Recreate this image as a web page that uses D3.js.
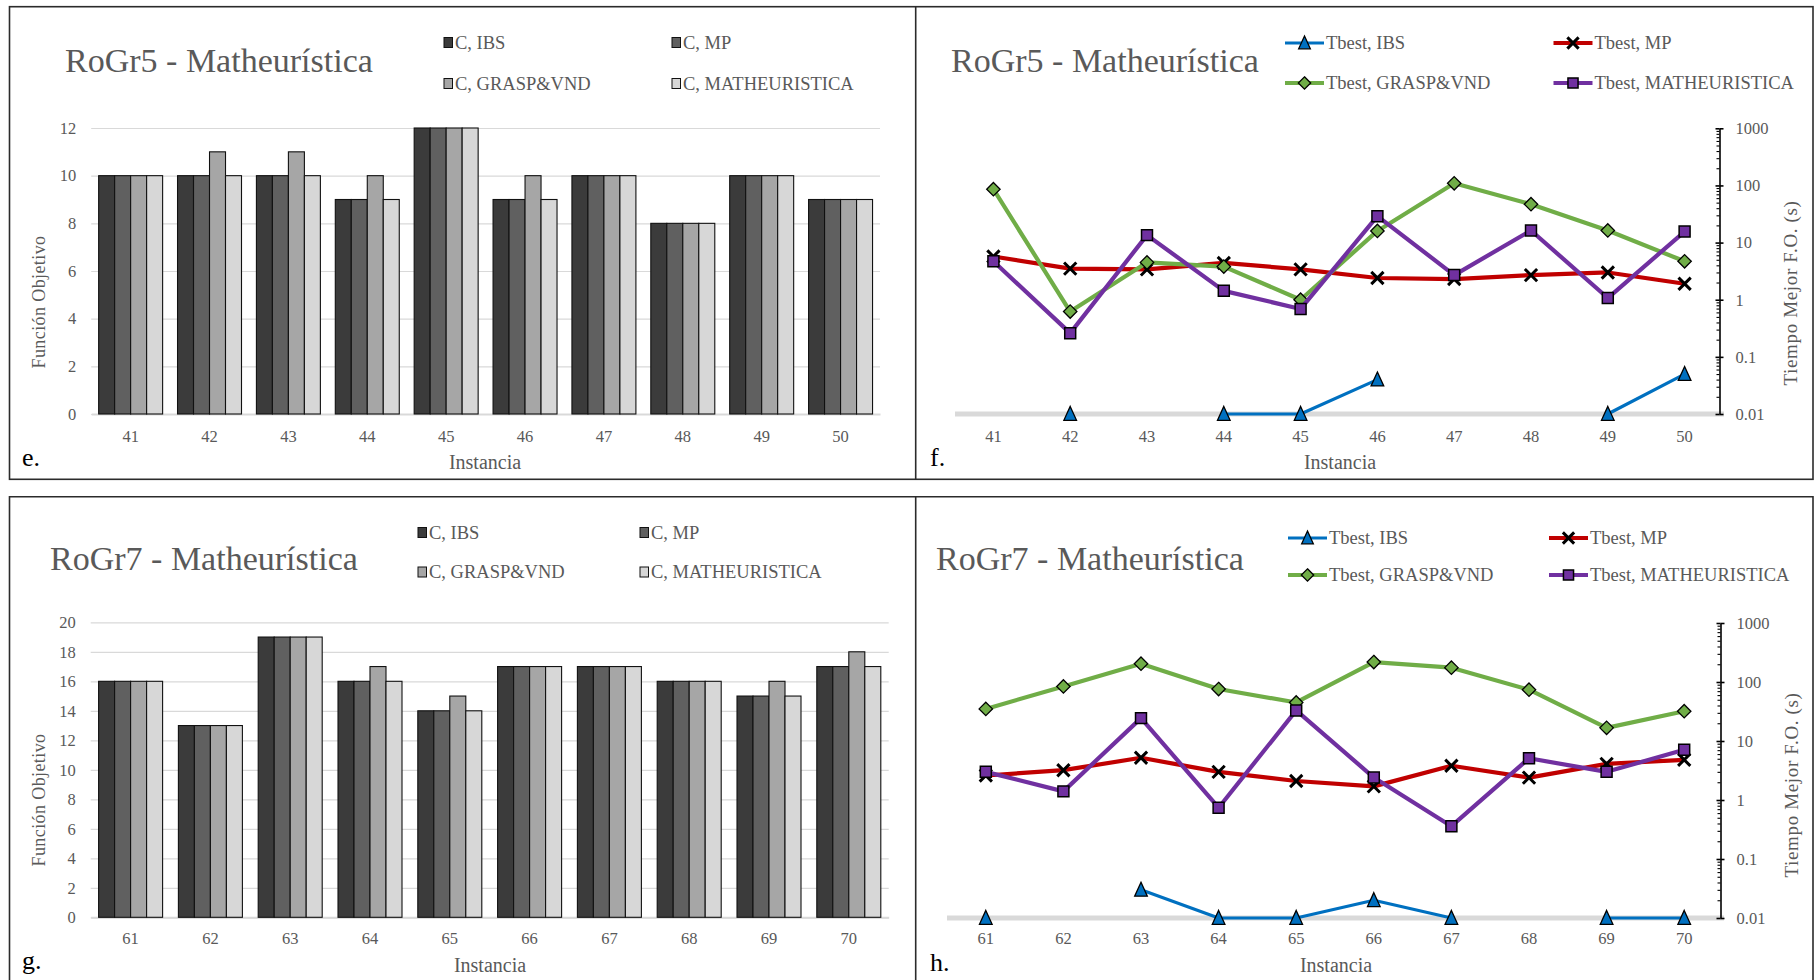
<!DOCTYPE html>
<html>
<head>
<meta charset="utf-8">
<script src="https://cdn.jsdelivr.net/npm/d3@7"></script>
<style>
  body { margin: 0; background: #ffffff; }
  svg { display: block; font-family: "Liberation Serif", "Times New Roman", serif; }
</style>
</head>
<body>
<svg id="chart" width="1820" height="980"></svg>
<script>
// ---------- data ----------
const instancesRoGr5 = ["41", "42", "43", "44", "45", "46", "47", "48", "49", "50"];
const instancesRoGr7 = ["61", "62", "63", "64", "65", "66", "67", "68", "69", "70"];

const barSeriesNames = ["C, IBS", "C, MP", "C, GRASP&VND", "C, MATHEURISTICA"];
const lineSeriesNames = ["Tbest, IBS", "Tbest, MP", "Tbest, GRASP&VND", "Tbest, MATHEURISTICA"];

// objective function, RoGr5
const cIbsRoGr5   = [10, 10, 10, 9, 12, 9, 10, 8, 10, 9];
const cMpRoGr5    = [10, 10, 10, 9, 12, 9, 10, 8, 10, 9];
const cGraspRoGr5 = [10, 11, 11, 10, 12, 10, 10, 8, 10, 9];
const cMathRoGr5  = [10, 10, 10, 9, 12, 9, 10, 8, 10, 9];

// objective function, RoGr7
const cIbsRoGr7   = [16, 13, 19, 16, 14, 17, 17, 16, 15, 17];
const cMpRoGr7    = [16, 13, 19, 16, 14, 17, 17, 16, 15, 17];
const cGraspRoGr7 = [16, 13, 19, 17, 15, 17, 17, 16, 16, 18];
const cMathRoGr7  = [16, 13, 19, 16, 14, 17, 17, 16, 15, 17];

// time to best solution (s), RoGr5; null = no value on the log axis
const tIbsRoGr5   = [null, 0.01, null, 0.01, 0.01, 0.04, null, null, 0.01, 0.05];
const tMpRoGr5    = [5.7, 3.5, 3.4, 4.4, 3.4, 2.4, 2.3, 2.7, 3.0, 1.9];
const tGraspRoGr5 = [86, 0.62, 4.5, 3.8, 1.0, 16, 109, 47, 16.3, 4.7];
const tMathRoGr5  = [4.7, 0.26, 13.5, 1.43, 0.69, 29, 2.7, 16.3, 1.07, 15.6];

// time to best solution (s), RoGr7
const tIbsRoGr7   = [0.01, null, 0.03, 0.01, 0.01, 0.02, 0.01, null, 0.01, 0.01];
const tMpRoGr7    = [2.6, 3.2, 5.2, 3.0, 2.1, 1.7, 3.8, 2.4, 4.1, 4.8];
const tGraspRoGr7 = [35, 84, 204, 76, 45, 218, 175, 74, 16.7, 32];
const tMathRoGr7  = [3.0, 1.4, 24.4, 0.74, 33, 2.4, 0.36, 5.1, 3.0, 7.1];

const barTicksRoGr5 = [0, 2, 4, 6, 8, 10, 12];
const barTicksRoGr7 = [0, 2, 4, 6, 8, 10, 12, 14, 16, 18, 20];
const logTicks = [0.01, 0.1, 1, 10, 100, 1000];
const logTickLabels = ["0.01", "0.1", "1", "10", "100", "1000"];

// ---------- styling ----------
const barColors = ["#3b3b3b", "#606060", "#a6a6a6", "#d7d7d7"];
const lineColors = ["#0070C0", "#C00000", "#70AD47", "#7030A0"];
const textGray = "#595959";
const gridGray = "#d9d9d9";

// marker shapes
const triangleSym = { draw(ctx, size) { const s = Math.sqrt(size);
  ctx.moveTo(0, -s * 0.6); ctx.lineTo(s / 2, s * 0.5); ctx.lineTo(-s / 2, s * 0.5); ctx.closePath(); } };
const diamondSym = { draw(ctx, size) { const r = Math.sqrt(size) / 2;
  ctx.moveTo(0, -r); ctx.lineTo(r, 0); ctx.lineTo(0, r); ctx.lineTo(-r, 0); ctx.closePath(); } };
const squareSym = { draw(ctx, size) { const r = Math.sqrt(size) / 2;
  ctx.rect(-r, -r, 2 * r, 2 * r); } };
const timesSym = { draw(ctx, size) { const r = Math.sqrt(size) / 2;
  ctx.moveTo(-r, -r); ctx.lineTo(r, r); ctx.moveTo(r, -r); ctx.lineTo(-r, r); } };

const markerDefs = [
  { type: triangleSym, size: 160, fill: lineColors[0], stroke: "#000", sw: 1.3, lw: 3.2 },
  { type: timesSym,    size: 150, fill: "none",        stroke: "#000", sw: 3,   lw: 4.2 },
  { type: diamondSym,  size: 180, fill: lineColors[2], stroke: "#000", sw: 1.3, lw: 4.2 },
  { type: squareSym,   size: 120, fill: lineColors[3], stroke: "#000", sw: 1.5, lw: 4.2 }
];

const svg = d3.select("#chart");
svg.append("rect").attr("width", 1820).attr("height", 980).attr("fill", "#fff");

// ---------- panel frames ----------
const frame = svg.append("g").attr("stroke", "#2b2b2b").attr("stroke-width", 1.6).attr("fill", "none");
frame.append("rect").attr("x", 9.5).attr("y", 6.7).attr("width", 1803.5).attr("height", 472.6);
frame.append("line").attr("x1", 915.7).attr("x2", 915.7).attr("y1", 6.7).attr("y2", 479.3);
frame.append("path").attr("d", "M9.5,990 V496.7 H1813 V990");
frame.append("line").attr("x1", 915.7).attr("x2", 915.7).attr("y1", 496.7).attr("y2", 990);

function addText(g, x, y, str, size, color, anchor) {
  return g.append("text").attr("x", x).attr("y", y).attr("font-size", size)
    .attr("fill", color).attr("text-anchor", anchor || "start").text(str);
}

// ---------- grouped bar panel ----------
function barPanel(p) {
  const g = svg.append("g");
  const x = d3.scaleBand().domain(p.categories).range([p.x0, p.x1])
    .paddingInner(p.pad).paddingOuter(p.pad / 2);
  const xs = d3.scaleBand().domain(d3.range(p.series.length)).range([0, x.bandwidth()]);
  const y = d3.scaleLinear().domain([0, p.yMax]).range([p.yZero, p.yTop]);

  // gridlines + labels
  const ya = g.append("g").attr("transform", `translate(${p.x0},0)`)
    .call(d3.axisLeft(y).tickValues(p.yTicks).tickSize(-(p.x1 - p.x0)).tickPadding(15));
  ya.select(".domain").remove();
  ya.selectAll("line").attr("stroke", gridGray).attr("stroke-width", 1.2);
  ya.selectAll("text").attr("font-size", 16.5).attr("fill", textGray)
    .attr("font-family", "Liberation Serif, Times New Roman, serif");

  const xa = g.append("g").attr("transform", `translate(0,${p.yZero})`)
    .call(d3.axisBottom(x).tickSize(0));
  xa.select(".domain").attr("stroke", gridGray).attr("stroke-width", 2);
  xa.selectAll("text").attr("dy", null).attr("y", p.tickY - p.yZero)
    .attr("font-size", 16.5).attr("fill", textGray)
    .attr("font-family", "Liberation Serif, Times New Roman, serif");

  // bars
  p.series.forEach((vals, si) => {
    g.append("g").selectAll("rect").data(vals).join("rect")
      .attr("x", (d, i) => x(p.categories[i]) + xs(si))
      .attr("y", d => y(d))
      .attr("width", xs.bandwidth())
      .attr("height", d => y(0) - y(d))
      .attr("fill", barColors[si])
      .attr("stroke", "#111").attr("stroke-width", 1.1);
  });

  // title, legend, captions
  addText(g, p.titleX, p.titleY, p.title, 34, textGray);
  barSeriesNames.forEach((name, i) => {
    const lx = p.legX[i % 2], ly = p.legY[Math.floor(i / 2)];
    g.append("rect").attr("x", lx).attr("y", ly - 5).attr("width", 8.5).attr("height", 10)
      .attr("fill", barColors[i]).attr("stroke", "#111").attr("stroke-width", 1);
    addText(g, lx + 11, ly + 6, name, 18.5, textGray);
  });
  addText(g, p.letterX, p.letterY, p.letter, 26, "#000");
  addText(g, p.xTitleX, p.xTitleY, "Instancia", 20, textGray, "middle");
  g.append("text").attr("transform", `translate(${p.yTitleX},${p.yTitleY}) rotate(-90)`)
    .attr("text-anchor", "middle").attr("dy", "0.35em").attr("font-size", 18)
    .attr("letter-spacing", 0.4).attr("fill", textGray).text("Función Objetivo");
}

// ---------- log-scale line panel ----------
function linePanel(p) {
  const g = svg.append("g");
  const x = d3.scaleBand().domain(p.categories).range([p.x0, p.x1]);
  const cx = c => x(c) + x.bandwidth() / 2;
  const y = d3.scaleLog().domain([0.01, 1000]).range([p.yLow, p.yHigh]);

  // horizontal axis band at the bottom of the log range
  g.append("line").attr("x1", p.x0).attr("x2", p.x1 + 1)
    .attr("y1", y(0.01)).attr("y2", y(0.01))
    .attr("stroke", gridGray).attr("stroke-width", 5);

  const xa = g.append("g").attr("transform", `translate(0,${y(0.01)})`)
    .call(d3.axisBottom(x).tickSize(0));
  xa.select(".domain").remove();
  xa.selectAll("text").attr("dy", null).attr("y", p.tickY - y(0.01))
    .attr("font-size", 16.5).attr("fill", textGray)
    .attr("font-family", "Liberation Serif, Times New Roman, serif");

  // right log axis: major ticks crossing, minor ticks inside
  const minor = [];
  [0.01, 0.1, 1, 10, 100].forEach(d => { for (let k = 2; k <= 9; k++) minor.push(d * k); });
  const am = g.append("g").attr("transform", `translate(${p.axisX},0)`)
    .call(d3.axisLeft(y).tickValues(minor).tickFormat("").tickSize(3).tickSizeOuter(0));
  am.select(".domain").remove();
  am.selectAll("line").attr("stroke", "#000").attr("stroke-width", 1.1);
  const aml = g.append("g").attr("transform", `translate(${p.axisX},0)`)
    .call(d3.axisLeft(y).tickValues(logTicks).tickFormat("").tickSize(4).tickSizeOuter(0));
  aml.select(".domain").remove();
  aml.selectAll("line").attr("stroke", "#000").attr("stroke-width", 1.6);
  const ar = g.append("g").attr("transform", `translate(${p.axisX},0)`)
    .call(d3.axisRight(y).tickValues(logTicks).tickFormat((d, i) => logTickLabels[i])
      .tickSize(4).tickSizeOuter(0).tickPadding(12));
  ar.select(".domain").attr("stroke", "#000").attr("stroke-width", 1.6);
  ar.selectAll("line").attr("stroke", "#000").attr("stroke-width", 1.6);
  ar.selectAll("text").attr("font-size", 16.5).attr("fill", textGray)
    .attr("font-family", "Liberation Serif, Times New Roman, serif");

  // series: line then markers, in legend order
  p.series.forEach((vals, si) => {
    const m = markerDefs[si];
    const pts = vals.map((v, i) => ({ c: p.categories[i], v }));
    const line = d3.line().defined(d => d.v != null).x(d => cx(d.c)).y(d => y(d.v));
    g.append("path").datum(pts).attr("d", line).attr("fill", "none")
      .attr("stroke", lineColors[si]).attr("stroke-width", m.lw)
      .attr("stroke-linejoin", "round");
    g.append("g").selectAll("path").data(pts.filter(d => d.v != null)).join("path")
      .attr("transform", d => `translate(${cx(d.c)},${y(d.v)})`)
      .attr("d", d3.symbol().type(m.type).size(m.size))
      .attr("fill", m.fill).attr("stroke", m.stroke).attr("stroke-width", m.sw);
  });

  // title, legend, captions
  addText(g, p.titleX, p.titleY, p.title, 34, textGray);
  lineSeriesNames.forEach((name, i) => {
    const m = markerDefs[i];
    const lx = p.legX[i % 2], ly = p.legY[Math.floor(i / 2)];
    g.append("line").attr("x1", lx).attr("x2", lx + 39).attr("y1", ly).attr("y2", ly)
      .attr("stroke", lineColors[i]).attr("stroke-width", m.lw);
    g.append("path").attr("transform", `translate(${lx + 19.5},${ly})`)
      .attr("d", d3.symbol().type(m.type).size(m.size * 0.85))
      .attr("fill", m.fill).attr("stroke", m.stroke).attr("stroke-width", m.sw);
    addText(g, lx + 41, ly + 6, name, 18.5, textGray);
  });
  addText(g, p.letterX, p.letterY, p.letter, 26, "#000");
  addText(g, p.xTitleX, p.xTitleY, "Instancia", 20, textGray, "middle");
  g.append("text").attr("transform", `translate(${p.yTitleX},${p.yTitleY}) rotate(-90)`)
    .attr("text-anchor", "middle").attr("dy", "0.35em").attr("font-size", 19)
    .attr("letter-spacing", 0.65).attr("fill", textGray).text("Tiempo Mejor F.O. (s)");
}

// e. RoGr5 objective function
barPanel({
  categories: instancesRoGr5, series: [cIbsRoGr5, cMpRoGr5, cGraspRoGr5, cMathRoGr5],
  yMax: 12, yTicks: barTicksRoGr5, title: "RoGr5 - Matheurística", letter: "e.",
  x0: 91.2, x1: 880, pad: 0.189, yZero: 414, yTop: 128, tickY: 442,
  titleX: 65, titleY: 72, legX: [444, 672], legY: [42.5, 83.5],
  letterX: 22, letterY: 466, xTitleX: 485, xTitleY: 469, yTitleX: 39, yTitleY: 302
});

// f. RoGr5 time to best
linePanel({
  categories: instancesRoGr5, series: [tIbsRoGr5, tMpRoGr5, tGraspRoGr5, tMathRoGr5],
  title: "RoGr5 - Matheurística", letter: "f.",
  x0: 955, x1: 1723, yLow: 414, yHigh: 128.3, axisX: 1719.5, tickY: 442,
  titleX: 951, titleY: 72, legX: [1285, 1553.5], legY: [43, 83],
  letterX: 930, letterY: 466, xTitleX: 1340, xTitleY: 469, yTitleX: 1790, yTitleY: 293
});

// g. RoGr7 objective function
barPanel({
  categories: instancesRoGr7, series: [cIbsRoGr7, cMpRoGr7, cGraspRoGr7, cMathRoGr7],
  yMax: 20, yTicks: barTicksRoGr7, title: "RoGr7 - Matheurística", letter: "g.",
  x0: 90.7, x1: 888.7, pad: 0.198, yZero: 917.3, yTop: 622.3, tickY: 944,
  titleX: 50, titleY: 570, legX: [418, 640], legY: [532.5, 572],
  letterX: 22, letterY: 969, xTitleX: 490, xTitleY: 972, yTitleX: 39, yTitleY: 800
});

// h. RoGr7 time to best
linePanel({
  categories: instancesRoGr7, series: [tIbsRoGr7, tMpRoGr7, tGraspRoGr7, tMathRoGr7],
  title: "RoGr7 - Matheurística", letter: "h.",
  x0: 947, x1: 1723, yLow: 918, yHigh: 623, axisX: 1720.5, tickY: 944,
  titleX: 936, titleY: 570, legX: [1288, 1549], legY: [538, 575],
  letterX: 930, letterY: 971, xTitleX: 1336, xTitleY: 972, yTitleX: 1791, yTitleY: 785
});
</script>
</body>
</html>
